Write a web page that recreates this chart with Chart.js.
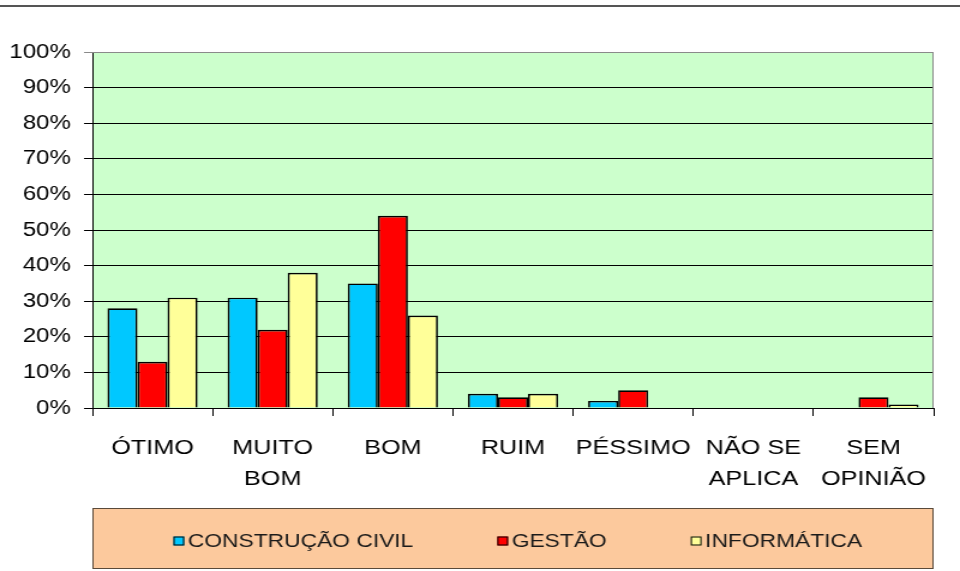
<!DOCTYPE html>
<html>
<head>
<meta charset="utf-8">
<script src="https://cdn.jsdelivr.net/npm/chart.js@4.4.0/dist/chart.umd.min.js"></script>
<style>
  html, body { margin: 0; padding: 0; background: #fff; overflow: hidden; }
  #wrap { width: 800px; height: 571px; transform: scaleX(1.2); transform-origin: 0 0; }
  #c { display: block; }
</style>
</head>
<body>
<div id="wrap"><canvas id="c" width="800" height="571"></canvas></div>
<script>
// data
const categories = [['ÓTIMO'], ['MUITO', 'BOM'], ['BOM'], ['RUIM'], ['PÉSSIMO'], ['NÃO SE', 'APLICA'], ['SEM', 'OPINIÃO']];
const construcaoCivil = [28, 31, 35, 4, 2, 0, 0];
const gestao = [13, 22, 54, 3, 5, 0, 3];
const informatica = [31, 38, 26, 4, 0, 0, 1];
const seriesNames = ['CONSTRUÇÃO CIVIL', 'GESTÃO', 'INFORMÁTICA'];
const yTicks = [0, 10, 20, 30, 40, 50, 60, 70, 80, 90, 100];

const colors = ['#00c8ff', '#ff0000', '#ffff99'];
const FONT = 'Arial, "Liberation Sans", sans-serif';

// green plot background, gray frame, top rule and the boxed legend
const decor = {
  id: 'decor',
  beforeDraw(chart) {
    const { ctx, chartArea: a } = chart;
    ctx.save();
    ctx.fillStyle = '#ccffcc';
    ctx.fillRect(a.left, a.top, a.right - a.left, a.bottom - a.top);
    ctx.restore();
  },
  beforeDatasetsDraw(chart) {
    const { ctx, chartArea: a } = chart;
    ctx.save();
    ctx.strokeStyle = '#8a8a8a';
    ctx.lineWidth = 1;
    ctx.beginPath();
    ctx.moveTo(a.left, a.top + 0.5);
    ctx.lineTo(a.right - 0.5, a.top + 0.5);
    ctx.lineTo(a.right - 0.5, a.bottom);
    ctx.stroke();
    ctx.restore();
  },
  afterDraw(chart) {
    const { ctx, chartArea: a } = chart;
    ctx.save();
    // rule at the top of the page
    ctx.fillStyle = '#555';
    ctx.fillRect(0, 5, chart.width, 2);

    // legend box
    const top = 508, bottom = 569;
    ctx.fillStyle = '#fcc99d';
    ctx.fillRect(a.left, top, a.right - a.left, bottom - top);
    ctx.strokeStyle = '#5a4a3a';
    ctx.lineWidth = 1;
    ctx.strokeRect(a.left + 0.5, top + 0.5, a.right - a.left - 1, bottom - top - 1);

    ctx.font = '19px ' + FONT;
    ctx.textBaseline = 'middle';
    const sq = 9, gapIn = 3, gapOut = 70;
    const ds = chart.data.datasets;
    const widths = ds.map(d => ctx.measureText(d.label).width);
    let total = widths.reduce((s, w) => s + w + sq + gapIn, 0) + gapOut * (ds.length - 1);
    let x = (a.left + a.right) / 2 - total / 2 + 4;
    const cy = 541;
    ds.forEach((d, i) => {
      ctx.fillStyle = d.backgroundColor;
      ctx.fillRect(x, cy - sq / 2, sq, sq);
      ctx.strokeStyle = '#000';
      ctx.strokeRect(x + 0.5, cy - sq / 2 + 0.5, sq - 1, sq - 1);
      x += sq + gapIn;
      ctx.fillStyle = '#1a1a1a';
      ctx.textAlign = 'left';
      ctx.fillText(d.label, x, cy + 1);
      x += widths[i] + gapOut;
    });
    ctx.restore();
  }
};

new Chart(document.getElementById('c'), {
  type: 'bar',
  data: {
    labels: categories,
    datasets: [construcaoCivil, gestao, informatica].map((vals, i) => ({
      label: seriesNames[i],
      data: vals,
      backgroundColor: colors[i],
      borderColor: '#000',
      borderWidth: 1.7,
      categoryPercentage: 0.75,
      barPercentage: 1
    }))
  },
  options: {
    responsive: false,
    devicePixelRatio: 1,
    animation: false,
    layout: { padding: { top: 52, right: 22, bottom: 63, left: 0 } },
    plugins: { legend: { display: false }, tooltip: { enabled: false } },
    scales: {
      x: {
        afterFit(s) { s.height = 100; },
        grid: { offset: true, drawOnChartArea: false, drawTicks: true, tickLength: 8, color: '#000' },
        border: { color: '#000', width: 1 },
        ticks: { color: '#000', padding: 16, font: { family: FONT, size: 21, lineHeight: 1.5 }, maxRotation: 0, autoSkip: false }
      },
      y: {
        min: 0,
        max: 100,
        afterFit(s) { s.width = 77; },
        afterBuildTicks(s) { s.ticks = yTicks.map(v => ({ value: v })); },
        grid: {
          color: c => (c.tick && c.tick.value === 100 ? '#8a8a8a' : '#000'),
          tickLength: 7
        },
        border: { color: '#000', width: 1 },
        ticks: {
          color: '#000',
          padding: 11,
          font: { family: FONT, size: 20 },
          callback: v => v + '%'
        }
      }
    }
  },
  plugins: [decor]
});
</script>
</body>
</html>
